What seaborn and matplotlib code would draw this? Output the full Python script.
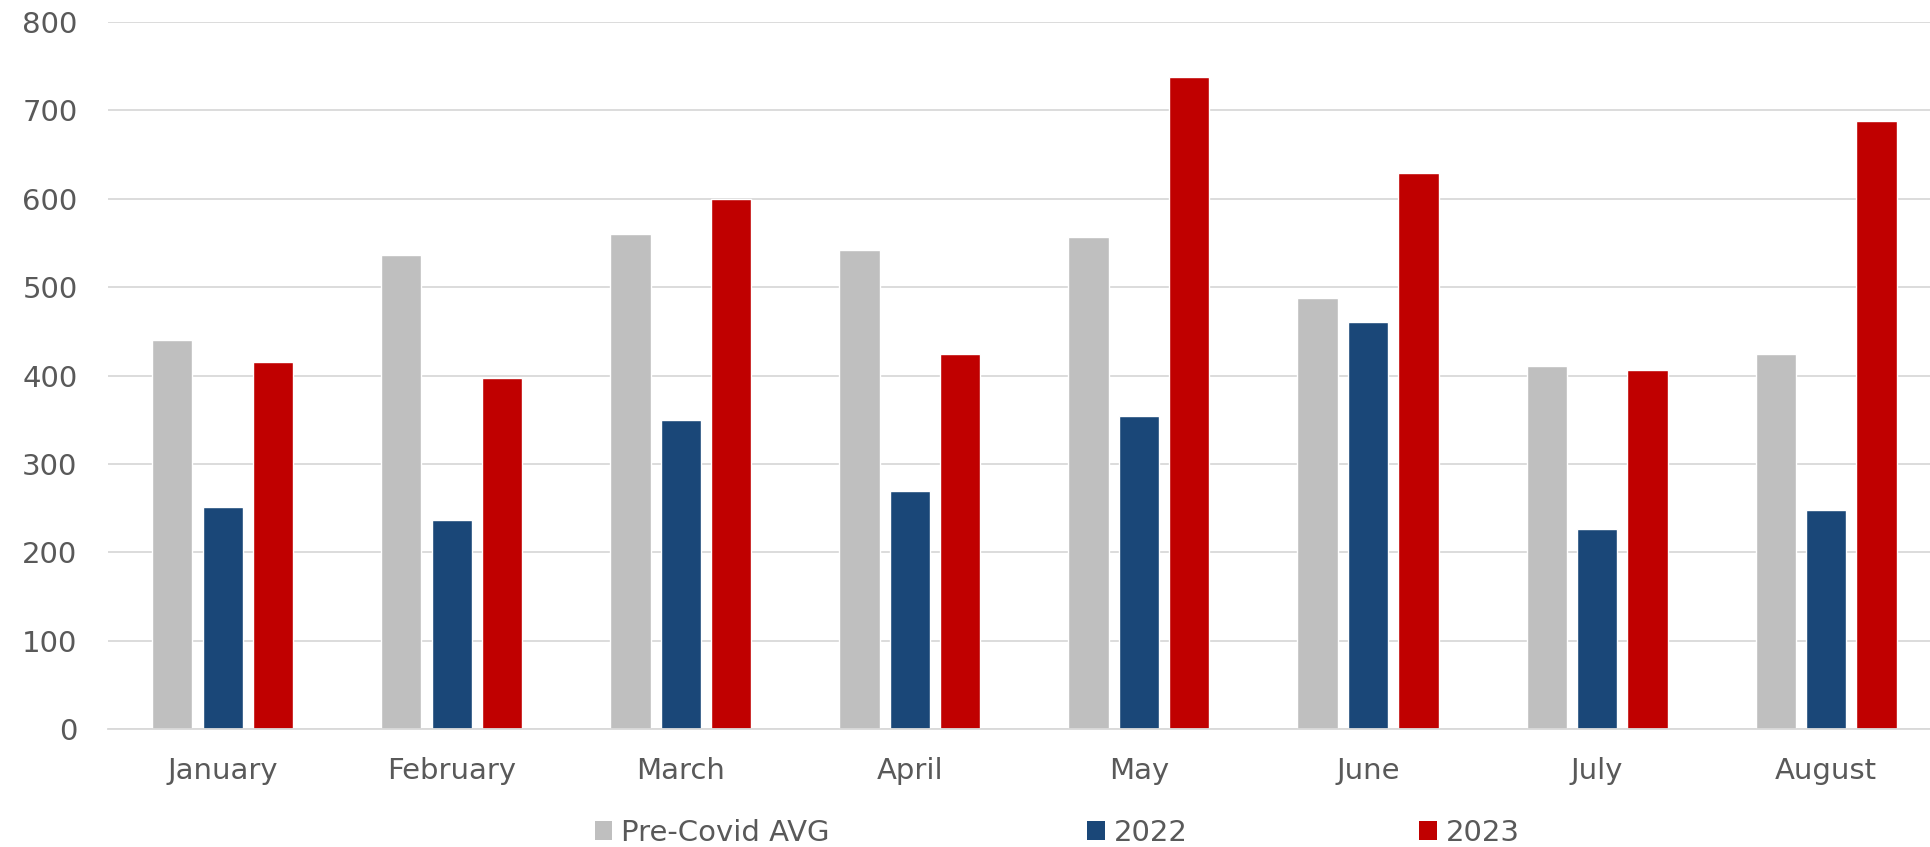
import matplotlib
matplotlib.use("Agg")
import matplotlib.pyplot as plt
import seaborn as sns
import pandas as pd
from matplotlib.patches import Patch

months = ["January", "February", "March", "April", "May", "June", "July", "August"]
series_names = ["Pre-Covid AVG", "2022", "2023"]
pre_covid = [440, 537, 560, 542, 557, 488, 411, 425]
y2022 = [251, 237, 350, 270, 354, 461, 226, 248]
y2023 = [415, 397, 600, 424, 738, 629, 406, 688]
yticks = [0, 100, 200, 300, 400, 500, 600, 700, 800]
colors = ["#bfbfbf", "#1a4778", "#c00000"]

rows = []
for name, vals in zip(series_names, [pre_covid, y2022, y2023]):
    for m, v in zip(months, vals):
        rows.append({"Month": m, "Series": name, "Value": v})
df = pd.DataFrame(rows)

sns.set_theme(style="white")
plt.rcParams['font.family'] = ['DejaVu Sans']
text_color = "#595959"

fig = plt.figure(figsize=(19.31, 8.47), dpi=100)
ax = fig.add_axes([0.056, 0.139, 0.949, 0.835])

sns.barplot(data=df, x="Month", y="Value", hue="Series", order=months,
            hue_order=series_names, palette=colors, width=0.66, gap=0.2,
            saturation=1, ax=ax, legend=False)

ax.set_xlim(-0.5, 7.5)
ax.set_ylim(0, 800)
ax.set_yticks(yticks)
ax.yaxis.grid(True, color="#d9d9d9", linewidth=1.3)
ax.set_axisbelow(True)
for s in ["top", "right", "left"]:
    ax.spines[s].set_visible(False)
ax.spines["bottom"].set_color("#d9d9d9")
ax.spines["bottom"].set_linewidth(1.3)
ax.tick_params(axis="both", length=0, labelsize=21, labelcolor=text_color)
ax.tick_params(axis="y", pad=22)
ax.tick_params(axis="x", pad=20)
ax.set_xlabel("")
ax.set_ylabel("")

legend_x = [0.308, 0.563, 0.735]
for name, c, lx in zip(series_names, colors, legend_x):
    fig.legend([Patch(facecolor=c, edgecolor="none")], [name], loc="center left",
               bbox_to_anchor=(lx, 0.0165), frameon=False, fontsize=21,
               labelcolor=text_color, handlelength=0.6, handleheight=0.6,
               handletextpad=0.3, borderpad=0, borderaxespad=0)

fig.savefig("out.png", dpi=100)
